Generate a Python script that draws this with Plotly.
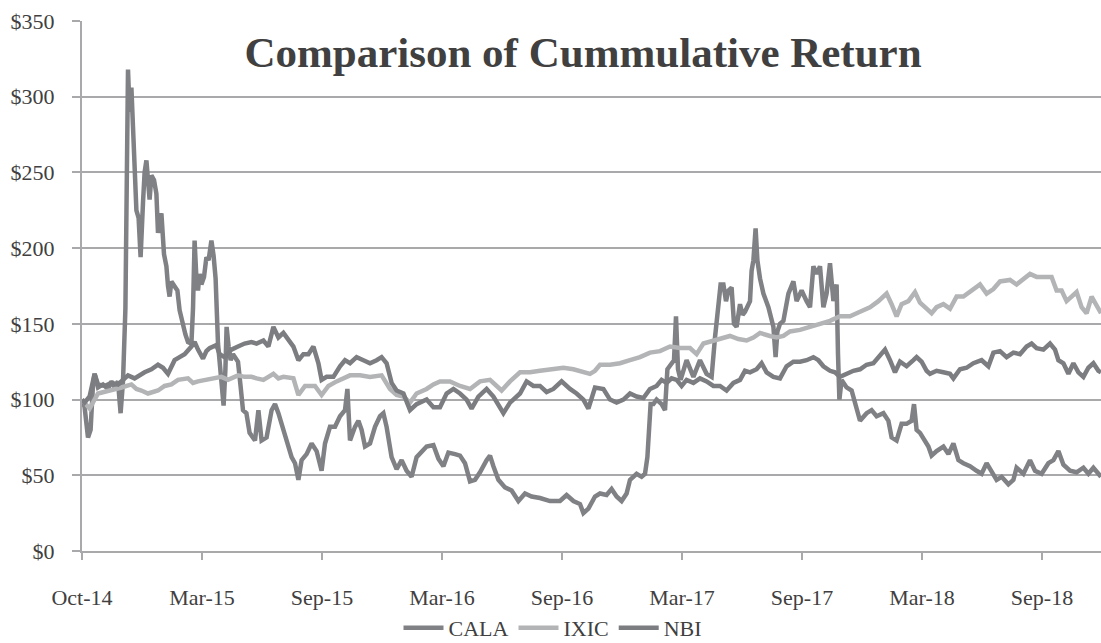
import plotly.graph_objects as go

# x values: months elapsed since 1 Oct 2014
tick_months = [0, 6, 12, 18, 24, 30, 36, 42, 48]
tick_labels = ["Oct-14", "Mar-15", "Sep-15", "Mar-16", "Sep-16", "Mar-17", "Sep-17", "Mar-18", "Sep-18"]
y_ticks = [0, 50, 100, 150, 200, 250, 300, 350]
y_labels = ["$0", "$50", "$100", "$150", "$200", "$250", "$300", "$350"]

cala_m = [0.0, 0.13, 0.3, 0.43, 0.55, 0.63, 0.8, 1.05, 1.3, 1.47, 1.63, 1.8, 1.93, 2.05, 2.17, 2.3, 2.38, 2.47,
          2.55, 2.63, 2.72, 2.83, 2.93, 3.05, 3.13, 3.22, 3.3, 3.38, 3.47, 3.6, 3.72, 3.8, 3.88, 3.97, 4.1, 4.22,
          4.3, 4.38, 4.47, 4.63, 4.77, 4.88, 5.05, 5.17, 5.3, 5.47, 5.55, 5.63, 5.72, 5.8, 5.88, 5.97, 6.1, 6.22,
          6.33, 6.47, 6.58, 6.68, 6.8, 6.97, 7.08, 7.17, 7.23, 7.33, 7.43, 7.55, 7.67, 7.8, 7.92, 8.05, 8.22, 8.38,
          8.65, 8.82, 8.98, 9.23, 9.48, 9.65, 9.82, 10.07, 10.32, 10.48, 10.65, 10.82, 10.98, 11.23, 11.48, 11.73,
          11.98, 12.15, 12.4, 12.65, 12.9, 13.15, 13.27, 13.4, 13.65, 13.82, 13.98, 14.15, 14.4, 14.65, 14.9, 15.07,
          15.23, 15.48, 15.73, 15.98, 16.23, 16.48, 16.73, 16.98, 17.23, 17.57, 17.82, 18.07, 18.32, 18.65, 18.9,
          19.15, 19.4, 19.65, 19.9, 20.23, 20.4, 20.57, 20.82, 21.15, 21.48, 21.82, 22.15, 22.48, 22.9, 23.4, 23.9,
          24.23, 24.57, 24.9, 25.07, 25.32, 25.65, 25.9, 26.23, 26.48, 26.73, 26.98, 27.23, 27.4, 27.73, 27.98,
          28.15, 28.27, 28.35, 28.43, 28.57, 28.73, 28.98, 29.15, 29.27, 29.48, 29.6, 29.7, 29.8, 29.93, 30.23,
          30.57, 30.9, 31.23, 31.48, 31.65, 31.82, 31.93, 32.07, 32.2, 32.32, 32.48, 32.6, 32.73, 32.9, 33.03,
          33.15, 33.4, 33.48, 33.57, 33.68, 33.77, 33.9, 34.07, 34.32, 34.57, 34.68, 34.77, 34.9, 35.07, 35.32,
          35.57, 35.73, 35.98, 36.23, 36.4, 36.57, 36.73, 36.9, 37.07, 37.23, 37.4, 37.57, 37.73, 37.8, 37.87,
          37.98, 38.23, 38.48, 38.73, 38.9, 39.23, 39.48, 39.73, 40.07, 40.32, 40.48, 40.73, 40.98, 41.23, 41.48,
          41.6, 41.73, 41.9, 42.15, 42.32, 42.48, 42.73, 43.07, 43.32, 43.57, 43.82, 44.07, 44.4, 44.73, 44.98,
          45.23, 45.48, 45.73, 45.98, 46.32, 46.57, 46.73, 47.07, 47.4, 47.65, 47.98, 48.32, 48.57, 48.82, 49.07,
          49.4, 49.73, 50.07, 50.32, 50.57, 50.82, 50.95]
cala_v = [100, 95, 75, 80, 110, 117, 108, 110, 107, 112, 108, 112, 91, 112, 160, 318, 290, 306,
          280, 250, 225, 220, 194, 230, 250, 258, 240, 232, 248, 245, 236, 210, 218, 223, 196, 188,
          175, 168, 178, 174, 172, 159, 148, 143, 138, 137, 160, 205, 180, 172, 183, 176, 181, 194,
          192, 205, 195, 180, 137, 113, 96, 120, 148, 135, 126, 130, 128, 125, 110, 93, 91, 78,
          73, 93, 73, 75, 93, 97, 91, 80, 71, 62, 58, 47, 60, 64, 71, 66,
          53, 71, 82, 82, 89, 93, 107, 73, 82, 86, 80, 69, 71, 82, 89, 91,
          82, 62, 54, 60, 53, 49, 62, 66, 69, 70, 61, 56, 65, 64, 63,
          58, 46, 47, 52, 60, 63, 56, 47, 42, 40, 33, 38, 36, 35, 33, 33,
          37, 33, 31, 25, 28, 36, 38, 37, 41, 36, 33, 38, 47, 51, 49,
          51, 62, 82, 97, 97, 100, 97, 93, 120, 124, 126, 155, 120, 113, 126,
          115, 126, 117, 115, 141, 165, 176, 176, 165, 172, 174, 150, 148, 163, 156,
          158, 165, 185, 192, 213, 192, 180, 170, 161, 148, 128, 145, 150, 152, 170,
          178, 165, 172, 165, 161, 188, 183, 188, 161, 170, 190, 165, 176, 130, 100,
          113, 108, 106, 95, 86, 91, 93, 89, 91, 86, 75, 73, 84, 84, 86,
          97, 80, 78, 73, 69, 63, 66, 69, 64, 71, 60, 58, 56, 53, 51,
          58, 53, 47, 49, 44, 47, 55, 51, 60, 53, 51, 58, 60, 66, 57,
          53, 52, 55, 51, 55, 51, 49]

ixic_m = [0.0, 0.38, 0.8, 1.13, 1.47, 1.97, 2.47, 2.72, 2.97, 3.3, 3.8, 4.13, 4.47, 4.8, 5.3, 5.55, 5.8, 6.13,
          6.47, 6.97, 7.3, 7.8, 8.13, 8.47, 8.73, 9.07, 9.32, 9.57, 9.82, 10.07, 10.57, 10.82, 11.15, 11.65,
          11.98, 12.32, 12.73, 13.07, 13.4, 13.9, 14.4, 14.98, 15.4, 15.73, 16.07, 16.4, 16.73, 17.23, 17.57,
          17.9, 18.4, 18.9, 19.4, 19.9, 20.4, 20.98, 21.4, 21.9, 22.4, 22.9, 23.57, 24.07, 24.57, 25.07, 25.4,
          25.65, 25.9, 26.4, 26.9, 27.4, 27.9, 28.4, 28.9, 29.4, 29.9, 30.4, 30.73, 31.07, 31.57, 32.07, 32.4,
          32.82, 33.23, 33.57, 33.9, 34.4, 34.73, 35.07, 35.4, 35.9, 36.4, 36.9, 37.4, 37.9, 38.4, 38.9, 39.4,
          39.82, 40.23, 40.48, 40.73, 40.98, 41.32, 41.65, 41.9, 42.23, 42.48, 42.73, 43.07, 43.4, 43.73, 44.07,
          44.57, 44.9, 45.23, 45.57, 45.9, 46.4, 46.73, 47.07, 47.4, 47.73, 48.15, 48.48, 48.73, 48.98, 49.23,
          49.48, 49.73, 49.98, 50.23, 50.48, 50.73, 50.95]
ixic_v = [100, 94, 104, 105, 106, 108, 110, 107, 106, 104, 106, 109, 110, 113, 114, 111, 112, 113,
          114, 115, 113, 116, 115, 115, 114, 113, 115, 117, 114, 115, 114, 103, 109, 109,
          103, 109, 112, 114, 116, 116, 115, 116, 107, 103, 102, 98, 104, 107, 110,
          112, 112, 109, 107, 112, 113, 106, 112, 118, 118, 119, 120, 121, 120, 118, 117,
          119, 123, 123, 124, 126, 128, 131, 132, 135, 134, 134, 130, 137, 139, 141, 142,
          140, 139, 141, 144, 142, 141, 142, 145, 146, 148, 150, 152, 155, 155, 158, 161,
          165, 170, 163, 155, 163, 165, 171, 164, 160, 157, 161, 163, 160, 168, 168,
          173, 176, 170, 173, 178, 179, 176, 180, 183, 181, 181, 181, 172, 172, 165,
          168, 171, 161, 157, 168, 162, 157]

nbi_m = [0.0, 0.13, 0.38, 0.63, 0.8, 1.13, 1.47, 1.8, 2.3, 2.63, 3.13, 3.47, 3.8, 4.05, 4.3, 4.63, 4.88, 5.13,
         5.47, 5.63, 5.8, 6.05, 6.22, 6.38, 6.72, 6.88, 7.13, 7.47, 7.8, 8.13, 8.47, 8.73, 9.07, 9.32, 9.57,
         9.82, 10.07, 10.32, 10.57, 10.82, 11.07, 11.32, 11.57, 11.82, 11.98, 12.23, 12.57, 12.9, 13.15, 13.4,
         13.73, 14.07, 14.4, 14.73, 14.98, 15.23, 15.48, 15.73, 16.07, 16.4, 16.73, 17.23, 17.57, 17.9, 18.23,
         18.57, 18.9, 19.23, 19.48, 19.82, 20.23, 20.57, 21.07, 21.4, 21.9, 22.23, 22.57, 22.9, 23.23, 23.57,
         23.98, 24.4, 24.73, 25.07, 25.32, 25.65, 26.07, 26.4, 26.73, 27.07, 27.4, 27.73, 28.07, 28.4, 28.73,
         28.98, 29.23, 29.48, 29.73, 29.98, 30.23, 30.57, 30.9, 31.23, 31.57, 31.9, 32.23, 32.57, 32.9, 33.15,
         33.4, 33.73, 33.98, 34.23, 34.57, 34.9, 35.23, 35.57, 35.9, 36.23, 36.57, 36.82, 37.07, 37.4, 37.65,
         37.9, 38.23, 38.57, 38.9, 39.23, 39.57, 39.9, 40.15, 40.4, 40.65, 40.9, 41.23, 41.57, 41.73, 41.98,
         42.23, 42.4, 42.73, 43.07, 43.4, 43.57, 43.9, 44.23, 44.57, 44.98, 45.32, 45.57, 45.9, 46.23, 46.57,
         46.9, 47.23, 47.48, 47.73, 48.07, 48.4, 48.65, 48.82, 49.07, 49.32, 49.57, 49.82, 50.07, 50.32, 50.57,
         50.82, 50.95]
nbi_v = [100, 98, 102, 117, 110, 109, 111, 110, 116, 114, 118, 120, 123, 121, 117, 126, 128, 130,
         135, 138, 133, 127, 132, 134, 136, 130, 128, 133, 135, 137, 138, 137, 139, 135, 148,
         141, 144, 139, 135, 126, 130, 130, 135, 124, 113, 115, 115, 122, 126, 124,
         128, 126, 124, 126, 128, 124, 111, 106, 104, 93, 97, 100, 95, 95, 104,
         107, 104, 100, 94, 102, 107, 102, 91, 98, 104, 112, 109, 109, 105, 107,
         112, 107, 104, 100, 94, 108, 107, 100, 98, 100, 104, 102, 101, 107, 109,
         113, 111, 114, 113, 109, 113, 111, 114, 112, 109, 109, 106, 111, 113, 119,
         118, 120, 124, 118, 115, 114, 122, 125, 125, 126, 128, 126, 122, 119, 118,
         115, 117, 119, 120, 123, 124, 129, 133, 126, 118, 125, 122, 126, 128, 125,
         119, 117, 119, 118, 117, 114, 120, 121, 124, 126, 122, 131, 132, 128, 131,
         130, 135, 137, 134, 133, 137, 133, 126, 124, 117, 124, 118, 115, 121, 124,
         119, 118]

FONT = "Liberation Serif, Times New Roman, serif"
TEXT = "#404040"
GRID = "#a9a9ab"

fig = go.Figure()
fig.add_trace(go.Scatter(x=cala_m, y=cala_v, name="CALA", mode="lines",
                         line=dict(color="#808185", width=4.5)))
fig.add_trace(go.Scatter(x=ixic_m, y=ixic_v, name="IXIC", mode="lines",
                         line=dict(color="#b3b4b6", width=4.5)))
fig.add_trace(go.Scatter(x=nbi_m, y=nbi_v, name="NBI", mode="lines",
                         line=dict(color="#7c7d81", width=4.5)))

fig.update_layout(
    width=1101, height=643,
    margin=dict(l=82, r=0, t=21, b=92),
    paper_bgcolor="white", plot_bgcolor="white",
    font=dict(family=FONT, size=22, color=TEXT),
    title=dict(text="<b>Comparison of Cummulative Return</b>",
               font=dict(family=FONT, size=43, color=TEXT),
               x=583 / 1101, xanchor="center", xref="container",
               y=1 - 52 / 643, yanchor="middle", yref="container"),
    showlegend=True,
    legend=dict(orientation="h", x=553 / 1101, xanchor="center", xref="container",
                y=1 - 628 / 643, yanchor="middle", yref="container",
                font=dict(family=FONT, size=22, color=TEXT), traceorder="normal",
                itemwidth=40, bgcolor="rgba(0,0,0,0)"),
    xaxis=dict(range=[0, 50.95], tickmode="array", tickvals=tick_months, ticktext=tick_labels,
               showgrid=False, zeroline=False, showline=True, linecolor=GRID, linewidth=2,
               ticks="outside", ticklen=7, tickwidth=2, tickcolor=GRID, automargin=False,
               ticklabelstandoff=19, tickfont=dict(family=FONT, size=22, color=TEXT)),
    yaxis=dict(range=[0, 350], tickmode="array", tickvals=y_ticks, ticktext=y_labels,
               showgrid=True, gridcolor=GRID, gridwidth=2, zeroline=False,
               showline=True, linecolor=GRID, linewidth=2, automargin=False,
               ticks="outside", ticklen=8, tickwidth=2, tickcolor=GRID,
               ticklabelstandoff=13, tickfont=dict(family=FONT, size=22, color=TEXT)),
)

fig.write_html("out.html", config={"displayModeBar": False},
               post_script="document.body.style.margin='0';document.body.style.overflow='hidden';")
